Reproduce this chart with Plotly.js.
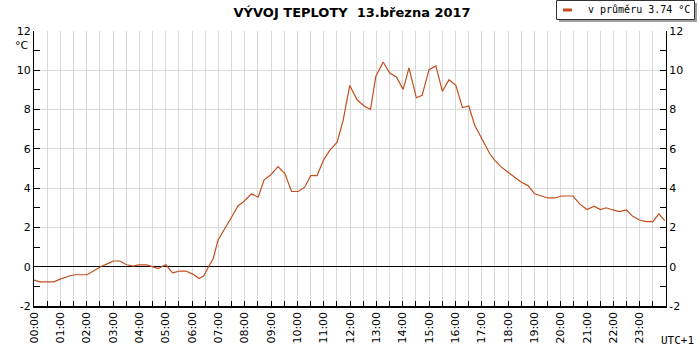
<!DOCTYPE html>
<html>
<head>
<meta charset="utf-8">
<script src="https://cdn.plot.ly/plotly-3.0.1.min.js"></script>
<style>html,body{margin:0;padding:0;background:#fff;}#chart{width:700px;height:350px;}</style>
</head>
<body>
<div id="chart"></div>
<script>
// time of day in hours
var hours = [0.00,0.23,0.76,0.99,1.37,1.56,2.02,2.25,2.53,2.82,3.01,3.26,3.52,3.77,3.96,4.28,4.50,4.72,4.84,5.01,5.26,5.54,5.77,6.05,6.27,6.45,6.65,6.80,6.99,7.25,7.50,7.75,7.94,8.26,8.51,8.74,8.96,9.27,9.53,9.78,10.03,10.28,10.51,10.75,11.00,11.23,11.51,11.74,11.99,12.27,12.56,12.78,12.98,13.26,13.51,13.76,14.02,14.24,14.52,14.74,15.00,15.26,15.51,15.76,16.02,16.27,16.51,16.74,16.93,17.31,17.50,17.75,18.00,18.25,18.51,18.76,19.01,19.27,19.52,19.77,20.03,20.47,20.72,21.00,21.27,21.51,21.73,21.98,22.24,22.49,22.75,23.00,23.25,23.50,23.73,23.95];
// temperature in °C
var temps = [-0.68,-0.77,-0.77,-0.63,-0.46,-0.41,-0.41,-0.24,0.00,0.17,0.29,0.29,0.10,0.03,0.09,0.09,0.00,-0.09,0.00,0.10,-0.31,-0.22,-0.22,-0.39,-0.60,-0.46,0.05,0.39,1.36,1.92,2.52,3.11,3.28,3.71,3.54,4.42,4.64,5.10,4.73,3.83,3.83,4.05,4.64,4.64,5.44,5.92,6.34,7.45,9.23,8.50,8.16,8.01,9.69,10.42,9.86,9.66,9.03,10.12,8.60,8.72,10.03,10.22,8.93,9.52,9.23,8.10,8.18,7.19,6.72,5.75,5.41,5.07,4.81,4.56,4.30,4.13,3.71,3.60,3.50,3.50,3.60,3.60,3.20,2.91,3.08,2.91,3.00,2.89,2.81,2.89,2.55,2.38,2.30,2.30,2.69,2.35];
var hourTickVals = [0,1,2,3,4,5,6,7,8,9,10,11,12,13,14,15,16,17,18,19,20,21,22,23];
var hourTickText = ["00:00","01:00","02:00","03:00","04:00","05:00","06:00","07:00","08:00","09:00","10:00","11:00","12:00","13:00","14:00","15:00","16:00","17:00","18:00","19:00","20:00","21:00","22:00","23:00"];
var yTickVals = [-2,0,2,4,6,8,10,12];
var yTickText = ["-2","0","2","4","6","8","10","12"];
var legendLabel = "v průměru 3.74 °C";
var titleText = "VÝVOJ TEPLOTY\u00a0\u00a013.března 2017";

var lineColor = "#c24e1c";
var gridColor = "#d9d9d9";
var tickFont = {family: "DejaVu Sans", size: 11, color: "#000"};
var monoFont = {family: "DejaVu Sans Mono", size: 11, color: "#000"};
var legendFont = {family: "DejaVu Sans Mono", size: 10, color: "#000"};

var traces = [
  {x: hours, y: temps, type: "scatter", mode: "lines", name: legendLabel,
   line: {color: lineColor, width: 1.2}, hoverinfo: "skip", showlegend: false},
  {x: hours, y: temps, type: "scatter", mode: "lines", yaxis: "y2", showlegend: false,
   line: {color: "rgba(0,0,0,0)", width: 0}, hoverinfo: "skip"}
];

var yCommon = {
  range: [-2, 12], tickmode: "array", tickvals: yTickVals, ticktext: yTickText,
  ticks: "inside", ticklen: 6, tickcolor: "#000", tickfont: tickFont,
  showline: true, linecolor: "#000", linewidth: 1, fixedrange: true
};

// plot-area pixel helpers for positioning decorations (paper coords)
var L = 34, R = 666, T = 31, B = 306;
function px(x) { return (x - L) / (R - L); }
function py(y) { return (B - y) / (B - T); }

var layout = {
  width: 700, height: 350,
  margin: {l: L, r: 700 - R, t: T, b: 350 - B, pad: 0, autoexpand: false},
  paper_bgcolor: "#fff", plot_bgcolor: "#fff",
  font: {family: "DejaVu Sans", size: 11, color: "#000"},
  title: {text: titleText, font: {family: "DejaVu Sans", size: 13, color: "#000", weight: "bold"},
          x: 0.503, xanchor: "center", y: 1 - 12/350, yanchor: "middle", yref: "container"},
  showlegend: false,
  xaxis: {
    range: [0, 24], tickmode: "array", tickvals: hourTickVals, ticktext: hourTickText,
    tickangle: -90, ticks: "inside", ticklen: 5, tickcolor: "#000", tickfont: tickFont,
    showgrid: true, gridcolor: gridColor, gridwidth: 1,
    showline: true, linecolor: "#000", linewidth: 1.5, zeroline: false,
    minor: {dtick: 0.5, tick0: 0, ticks: "inside", ticklen: 5, tickcolor: "#000",
            showgrid: true, gridcolor: gridColor, gridwidth: 1},
    fixedrange: true
  },
  yaxis: Object.assign({}, yCommon, {
    side: "left", showgrid: true, gridcolor: gridColor, gridwidth: 1,
    zeroline: true, zerolinecolor: "#000", zerolinewidth: 1.2,
    minor: {dtick: 1, ticks: "inside", ticklen: 6, tickcolor: "#000", showgrid: false}
  }),
  yaxis2: Object.assign({}, yCommon, {
    side: "right", overlaying: "y", showgrid: false, zeroline: false,
    minor: {dtick: 1, ticks: "inside", ticklen: 6, tickcolor: "#000", showgrid: false}
  }),
  shapes: [
    // legend shadow
    {type: "rect", xref: "paper", yref: "paper", layer: "above",
     x0: px(559), x1: px(697), y0: py(3), y1: py(22),
     fillcolor: "#a0a0a0", line: {width: 0}},
    // legend box
    {type: "rect", xref: "paper", yref: "paper", layer: "above",
     x0: px(556.5), x1: px(694.5), y0: py(0.5), y1: py(19.5),
     fillcolor: "#fff", line: {color: "#333", width: 1}},
    // legend line sample
    {type: "line", xref: "paper", yref: "paper", layer: "above",
     x0: px(563), x1: px(572), y0: py(10), y1: py(10),
     line: {color: lineColor, width: 3}}
  ],
  annotations: [
    {text: legendLabel, xref: "paper", yref: "paper", x: px(586), y: py(10),
     xanchor: "left", yanchor: "middle", showarrow: false, font: legendFont},
    {text: "°C", xref: "paper", yref: "paper", x: px(22), y: py(45),
     xanchor: "center", yanchor: "middle", showarrow: false, font: tickFont},
    {text: "UTC+1", xref: "paper", yref: "paper", x: px(696), y: py(340),
     xanchor: "right", yanchor: "middle", showarrow: false, font: monoFont}
  ]
};

Plotly.newPlot("chart", traces, layout, {displayModeBar: false, staticPlot: true});
</script>
</body>
</html>
